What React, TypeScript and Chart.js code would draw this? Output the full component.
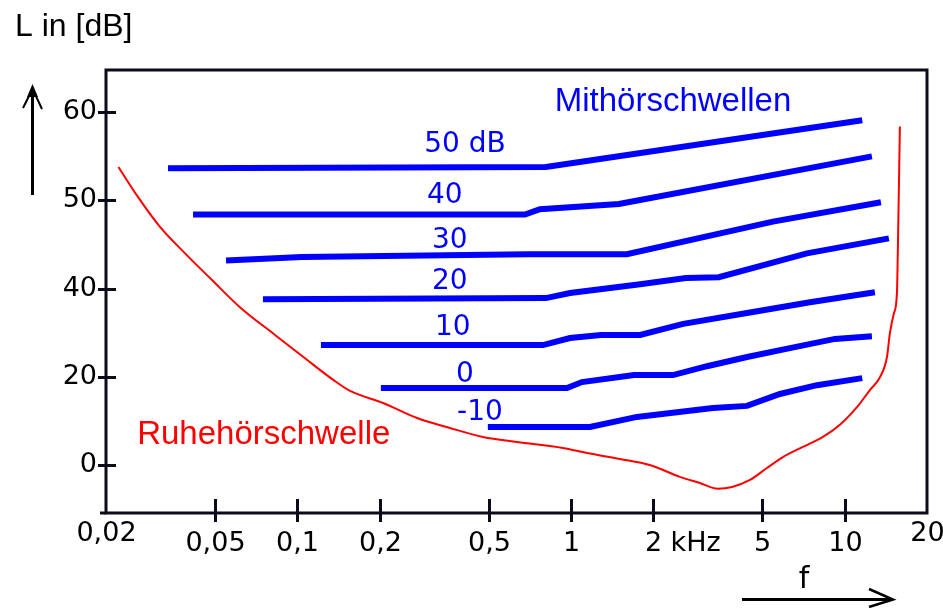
import React, { useEffect, useRef } from 'react';
import { Chart, registerables } from 'chart.js';

Chart.register(...registerables);

// ---- axes ----
const xTickValues = [0.02, 0.05, 0.1, 0.2, 0.5, 1, 2, 5, 10, 20];
const xTickLabels = ['0,02', '0,05', '0,1', '0,2', '0,5', '1', '2', '5', '10', '20'];
const yTickValues = [0, 20, 40, 50, 60]; // dB (axis is compressed below 40 dB)
const yTickLabels = ['0', '20', '40', '50', '60'];
const xMin = 0.02;
const xMax = 20;
const yMinDb = -10.9;
const yMaxDb = 64.8;

// ---- Ruhehörschwelle (threshold in quiet) ----
const quietFreq = [0.0222, 0.0259, 0.0315, 0.0389, 0.0487, 0.0617, 0.0829, 0.1067, 0.1354, 0.156, 0.206, 0.274, 0.361, 0.477, 0.635, 0.935, 1.144, 1.51, 1.94, 2.5, 2.96, 3.44, 3.88, 4.51, 5.2, 5.95, 7.04, 8.33, 9.61, 11.09, 12.37, 13.46, 14.28, 14.64, 15.14, 15.53, 15.66, 15.92];
const quietDb = [53.8, 50.6, 47.0, 44.0, 41.0, 35.8, 29.5, 24.2, 19.3, 16.8, 14.05, 10.65, 8.4, 6.35, 5.2, 3.85, 2.7, 1.36, 0, -2.7, -4.1, -5.4, -5.0, -3.4, -0.7, 1.8, 4.1, 6.35, 9.1, 13.1, 17.0, 19.9, 24.5, 29.9, 34.4, 39.0, 44.9, 58.4];

// ---- Mithörschwellen (masked thresholds) ----
const mask50Freq = [0.0337, 0.81, 11.6];
const mask50Db = [53.65, 53.8, 59.1];
const mask40Freq = [0.0416, 0.679, 0.77, 1.497, 12.58];
const mask40Db = [48.4, 48.4, 49.0, 49.6, 55.0];
const mask30Freq = [0.0549, 0.104, 0.697, 1.6, 5.47, 13.57];
const mask30Db = [43.2, 43.6, 43.9, 43.9, 47.6, 49.8];
const mask20Freq = [0.0749, 0.81, 0.992, 1.79, 2.63, 3.47, 7.28, 14.51];
const mask20Db = [37.6, 37.85, 39.0, 40.5, 41.2, 41.3, 44.0, 45.7];
const mask10Freq = [0.122, 0.79, 0.992, 1.287, 1.79, 2.57, 4.62, 7.47, 12.9];
const mask10Db = [27.2, 27.2, 28.8, 29.5, 29.5, 32.0, 34.7, 36.9, 39.2];
const mask0Freq = [0.202, 0.967, 1.097, 1.7, 2.36, 3.14, 4.4, 6.31, 9.22, 12.58];
const mask0Db = [17.45, 17.45, 18.8, 20.4, 20.4, 22.4, 24.5, 26.5, 28.6, 29.2];
const maskM10Freq = [0.497, 1.173, 1.742, 3.3, 4.4, 5.8, 7.92, 11.6];
const maskM10Db = [8.6, 8.6, 10.9, 12.9, 13.4, 16.1, 18.1, 19.7];

const maskLabels = ['50 dB', '40', '30', '20', '10', '0', '-10'];
const maskLabelFreq = [0.41, 0.346, 0.361, 0.361, 0.37, 0.41, 0.465];
const maskLabelDb = [55.5, 49.7, 44.6, 39.9, 29.5, 18.8, 10.2];

const maskTitle = 'Mithörschwellen';
const maskTitleFreq = 2.36;
const maskTitleDb = 60.2;
const quietTitle = 'Ruhehörschwelle';
const quietTitleFreq = 0.026;
const quietTitleDb = 4.8;

const yAxisTitle = 'L in [dB]';
const xAxisTitle = 'f';
const xUnit = 'kHz';

// piecewise axis: 20 dB per unit below 40 dB, 10 dB per unit above
function axisPos(db: number): number {
  return db <= 40 ? db / 20 : 2 + (db - 40) / 10;
}

function toPoints(f: number[], db: number[]) {
  return f.map((v, i) => ({ x: v, y: axisPos(db[i]) }));
}

const INK = '#0b0b1c';
const BLUE = '#0000ff';
const RED = '#ff0000';

const decorPlugin = {
  id: 'decor',
  afterDraw(chart: any) {
    const ctx = chart.ctx as CanvasRenderingContext2D;
    const { left, right, top, bottom } = chart.chartArea;
    const xs = chart.scales.x;
    const ys = chart.scales.y;
    ctx.save();

    // frame
    ctx.strokeStyle = INK;
    ctx.lineWidth = 3;
    ctx.strokeRect(left, top, right - left, bottom - top);
    ctx.beginPath();
    ctx.moveTo(left - 6, bottom);
    ctx.lineTo(left, bottom);
    ctx.stroke();

    // y ticks (crossing the axis)
    yTickValues.forEach((v) => {
      const y = Math.round(ys.getPixelForValue(axisPos(v))) + 0.5;
      ctx.beginPath();
      ctx.moveTo(left - 8, y);
      ctx.lineTo(left + 10, y);
      ctx.stroke();
    });

    // x ticks + labels
    ctx.fillStyle = '#000';
    ctx.font = '27px "DejaVu Sans"';
    ctx.textAlign = 'center';
    ctx.textBaseline = 'alphabetic';
    xTickValues.forEach((v, i) => {
      const x = Math.round(xs.getPixelForValue(v)) + 0.5;
      if (i > 0 && i < xTickValues.length - 1) {
        ctx.beginPath();
        ctx.moveTo(x, bottom - 14);
        ctx.lineTo(x, bottom + 9);
        ctx.stroke();
      }
      const edge = i === 0 || i === xTickValues.length - 1;
      ctx.fillText(xTickLabels[i], x, bottom + (edge ? 28 : 38));
    });
    // unit after "2"
    const iTwo = xTickValues.indexOf(2);
    if (iTwo >= 0) {
      const x2 = xs.getPixelForValue(2);
      const w2 = ctx.measureText(xTickLabels[iTwo]).width;
      ctx.textAlign = 'left';
      ctx.fillText(' ' + xUnit, x2 + w2 / 2, bottom + 38);
    }

    // mask labels
    ctx.fillStyle = BLUE;
    ctx.font = '28px "DejaVu Sans"';
    ctx.textAlign = 'center';
    maskLabels.forEach((t, i) => {
      ctx.fillText(t, xs.getPixelForValue(maskLabelFreq[i]), ys.getPixelForValue(axisPos(maskLabelDb[i])));
    });
    ctx.font = '33px "Liberation Sans", Arial, sans-serif';
    ctx.fillText(maskTitle, xs.getPixelForValue(maskTitleFreq), ys.getPixelForValue(axisPos(maskTitleDb)));

    ctx.fillStyle = RED;
    ctx.textAlign = 'left';
    ctx.fillText(quietTitle, xs.getPixelForValue(quietTitleFreq), ys.getPixelForValue(axisPos(quietTitleDb)));

    // axis titles and arrows
    ctx.fillStyle = '#000';
    ctx.strokeStyle = '#000';
    ctx.font = '32px "Liberation Sans", Arial, sans-serif';
    ctx.textAlign = 'left';
    ctx.fillText(yAxisTitle, 15, 36);

    // up arrow
    ctx.lineWidth = 3;
    ctx.beginPath();
    ctx.moveTo(32.5, 195);
    ctx.lineTo(32.5, 90);
    ctx.stroke();
    ctx.beginPath();
    ctx.moveTo(27, 97);
    ctx.lineTo(32.5, 84);
    ctx.lineTo(38, 97);
    ctx.closePath();
    ctx.fill();
    ctx.lineWidth = 2;
    ctx.beginPath();
    ctx.moveTo(23, 108);
    ctx.lineTo(31, 92);
    ctx.moveTo(42, 109);
    ctx.lineTo(34, 92);
    ctx.stroke();

    // f and right arrow
    ctx.font = '30px "DejaVu Sans"';
    ctx.textAlign = 'center';
    ctx.fillText(xAxisTitle, 804, 588);
    ctx.lineWidth = 3;
    ctx.beginPath();
    ctx.moveTo(742, 599.5);
    ctx.lineTo(890, 599.5);
    ctx.stroke();
    ctx.lineWidth = 2.5;
    ctx.beginPath();
    ctx.moveTo(869, 589);
    ctx.lineTo(893, 599.5);
    ctx.lineTo(869, 607);
    ctx.stroke();

    ctx.restore();
  },
};

export default function App() {
  const ref = useRef<HTMLCanvasElement | null>(null);

  useEffect(() => {
    if (!ref.current) return;
    const maskSets = [
      [mask50Freq, mask50Db],
      [mask40Freq, mask40Db],
      [mask30Freq, mask30Db],
      [mask20Freq, mask20Db],
      [mask10Freq, mask10Db],
      [mask0Freq, mask0Db],
      [maskM10Freq, maskM10Db],
    ];
    const datasets: any[] = [
      {
        label: quietTitle,
        data: toPoints(quietFreq, quietDb),
        borderColor: RED,
        borderWidth: 2,
        pointRadius: 0,
        cubicInterpolationMode: 'monotone',
        fill: false,
      },
      ...maskSets.map(([f, d], i) => ({
        label: maskLabels[i],
        data: toPoints(f, d),
        borderColor: BLUE,
        borderWidth: 6,
        borderCapStyle: 'butt',
        pointRadius: 0,
        tension: 0,
        fill: false,
      })),
    ];

    const chart = new Chart(ref.current, {
      type: 'line',
      data: { datasets },
      options: {
        animation: false,
        responsive: false,
        devicePixelRatio: 1,
        layout: { padding: { top: 70, right: 16, left: 0, bottom: 0 } },
        plugins: { legend: { display: false }, tooltip: { enabled: false }, title: { display: false } },
        scales: {
          x: {
            type: 'logarithmic',
            min: xMin,
            max: xMax,
            afterBuildTicks: (s: any) => {
              s.ticks = xTickValues.map((v) => ({ value: v }));
            },
            ticks: { display: false },
            grid: { display: false, drawTicks: false },
            border: { display: false },
            afterFit: (s: any) => {
              s.height = 95;
              s.paddingLeft = 0;
              s.paddingRight = 0;
            },
          },
          y: {
            type: 'linear',
            min: axisPos(yMinDb),
            max: axisPos(yMaxDb),
            afterBuildTicks: (s: any) => {
              s.ticks = yTickValues.map((v) => ({ value: axisPos(v) }));
            },
            ticks: {
              autoSkip: false,
              padding: 9,
              color: '#000',
              font: { family: 'DejaVu Sans', size: 27 },
              callback: (_v: any, i: number) => yTickLabels[i],
            },
            grid: { display: false, drawTicks: false },
            border: { display: false },
            afterFit: (s: any) => {
              s.width = 106;
              s.paddingTop = 0;
              s.paddingBottom = 0;
            },
          },
        },
      } as any,
      plugins: [decorPlugin],
    });
    return () => chart.destroy();
  }, []);

  return (
    <div style={{ position: 'absolute', left: 0, top: 0, width: 943, height: 608, background: '#fff' }}>
      <canvas ref={ref} width={943} height={608} style={{ display: 'block' }} />
    </div>
  );
}
